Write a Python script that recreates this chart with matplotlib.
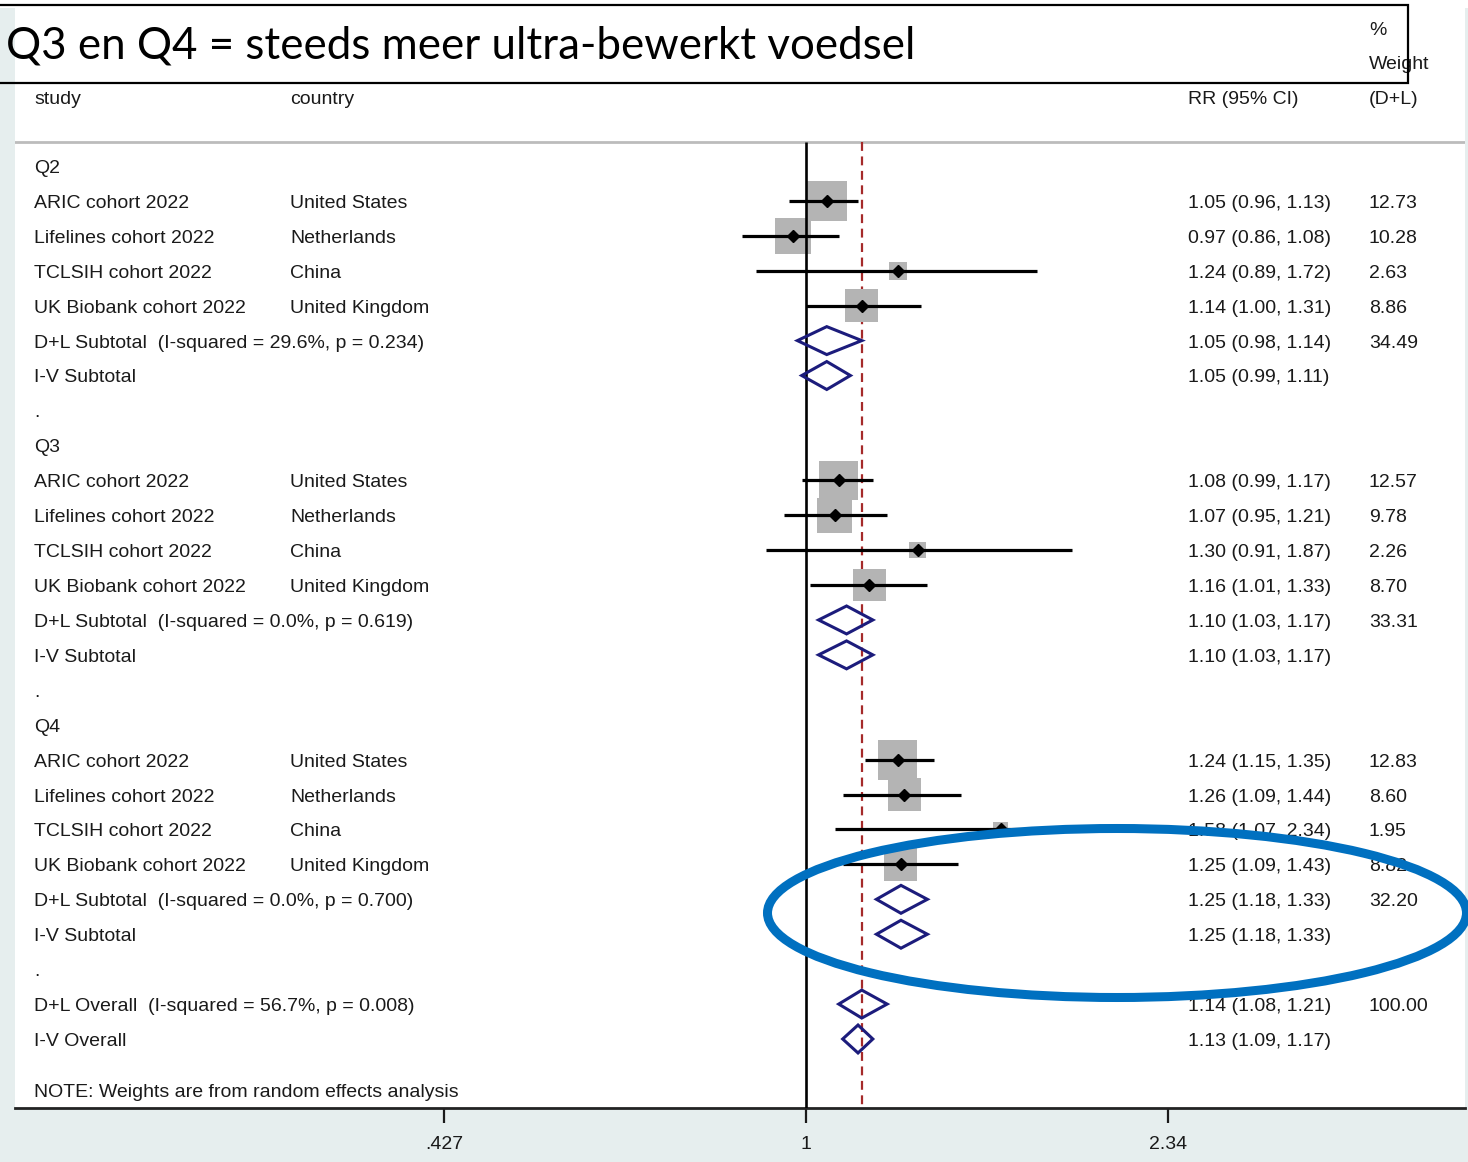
import matplotlib
matplotlib.use("Agg")
import matplotlib.pyplot as plt
import numpy as np
from matplotlib.patches import Rectangle, Ellipse
from matplotlib.ticker import NullLocator

plt.rcParams['font.family'] = ['Liberation Sans', 'DejaVu Sans']

# ---- data ----
groups = ["Q2", "Q3", "Q4"]
studies = ["ARIC cohort 2022", "Lifelines cohort 2022", "TCLSIH cohort 2022", "UK Biobank cohort 2022"]
countries = ["United States", "Netherlands", "China", "United Kingdom"]

rr = [[1.05, 0.97, 1.24, 1.14],
      [1.08, 1.07, 1.30, 1.16],
      [1.24, 1.26, 1.58, 1.25]]
lo = [[0.96, 0.86, 0.89, 1.00],
      [0.99, 0.95, 0.91, 1.01],
      [1.15, 1.09, 1.07, 1.09]]
hi = [[1.13, 1.08, 1.72, 1.31],
      [1.17, 1.21, 1.87, 1.33],
      [1.35, 1.44, 2.34, 1.43]]
weights = [[12.73, 10.28, 2.63, 8.86],
           [12.57, 9.78, 2.26, 8.70],
           [12.83, 8.60, 1.95, 8.82]]

# subtotals: (rr, lo, hi)
dl_sub = [(1.05, 0.98, 1.14), (1.10, 1.03, 1.17), (1.25, 1.18, 1.33)]
dl_sub_w = [34.49, 33.31, 32.20]
dl_isq = ["29.6%", "0.0%", "0.0%"]
dl_p = ["0.234", "0.619", "0.700"]
iv_sub = [(1.05, 0.99, 1.11), (1.10, 1.03, 1.17), (1.25, 1.18, 1.33)]

dl_overall = (1.14, 1.08, 1.21)
dl_overall_w = 100.00
overall_isq, overall_p = "56.7%", "0.008"
iv_overall = (1.13, 1.09, 1.17)

xticks = [0.427, 1, 2.34]
xtick_labels = [".427", "1", "2.34"]

title = "Q3 en Q4 = steeds meer ultra-bewerkt voedsel"

# ---- layout (pixels of the 1468x1162 canvas) ----
W, H = 1468, 1162
X0, SCALE = 806, 425.6      # px of RR=1, px per ln unit
ROW0, ROWH = 166, 34.92     # px of first row, row height
TXT = '#1a1a1a'
FS = 14


def fx(px):
    return px / W


def fy(py):
    return 1 - py / H


def row_of(py):
    return (py - ROW0) / ROWH


fig = plt.figure(figsize=(W / 100, H / 100), dpi=100)
fig.add_artist(Rectangle((0, 0), 1, fy(8), transform=fig.transFigure,
                         facecolor='#e6eeee', edgecolor='none', zorder=-1))

ax = fig.add_axes([fx(15), fy(1108), fx(1465) - fx(15), fy(8) - fy(1108)])
ax.set_facecolor('white')
ax.set_xscale('log')
ax.set_xlim(np.exp((15 - X0) / SCALE), np.exp((1465 - X0) / SCALE))
ybot = row_of(1108)
ax.set_ylim(ybot, row_of(8))
ax.xaxis.set_minor_locator(NullLocator())
ax.set_xticks(xticks, xtick_labels)
ax.set_yticks([])
ax.tick_params(axis='x', length=11, width=1.6, pad=9, labelsize=FS, colors=TXT)
for s in ['top', 'left', 'right']:
    ax.spines[s].set_visible(False)
ax.spines['bottom'].set_linewidth(2)
ax.spines['bottom'].set_color('#222222')

tr = ax.get_yaxis_transform()


def colx(px):
    return (px - 15) / 1450


def put(px, r, s):
    ax.text(colx(px), r + 0.07, s, transform=tr, fontsize=FS, color=TXT,
            va='center', ha='left')


def diamond(vals, r):
    m, l, h = vals
    ax.fill([l, m, h, m, l], [r, r - 0.4, r, r + 0.4, r], facecolor='none',
            edgecolor='#1c1c7c', linewidth=2.2, zorder=5)


# headers
r_sep = row_of(142)
put(34, row_of(97), "study")
put(290, row_of(97), "country")
put(1188, row_of(97), "RR (95% CI)")
put(1369, row_of(28), "%")
put(1369, row_of(62), "Weight")
put(1369, row_of(97), "(D+L)")
ax.axhline(r_sep, color='#bcbcbc', linewidth=2, zorder=1)

ax.vlines(1, r_sep, ybot, color='black', linewidth=1.9, zorder=3)
ax.vlines(dl_overall[0], r_sep, ybot, color='#a52a2a', linewidth=1.6,
          linestyles=(0, (4, 2.5)), zorder=1)

for g, gname in enumerate(groups):
    base = 8 * g
    put(34, base, gname)
    for i in range(4):
        r = base + 1 + i
        put(34, r, studies[i])
        put(290, r, countries[i])
        put(1188, r, f"{rr[g][i]:.2f} ({lo[g][i]:.2f}, {hi[g][i]:.2f})")
        put(1369, r, f"{weights[g][i]:.2f}")
        ax.scatter(rr[g][i], r, marker='s', s=64 * weights[g][i],
                   color='#b4b4b4', edgecolors='none', zorder=2)
        ax.plot([lo[g][i], hi[g][i]], [r, r], color='black', linewidth=2.3,
                solid_capstyle='butt', zorder=4)
        ax.plot(rr[g][i], r, marker='D', markersize=6.5, color='black', zorder=6)
    r = base + 5
    put(34, r, f"D+L Subtotal  (I-squared = {dl_isq[g]}, p = {dl_p[g]})")
    m, l, h = dl_sub[g]
    put(1188, r, f"{m:.2f} ({l:.2f}, {h:.2f})")
    put(1369, r, f"{dl_sub_w[g]:.2f}")
    diamond(dl_sub[g], r)
    r = base + 6
    put(34, r, "I-V Subtotal")
    m, l, h = iv_sub[g]
    put(1188, r, f"{m:.2f} ({l:.2f}, {h:.2f})")
    diamond(iv_sub[g], r)
    put(34, base + 7, ".")

put(34, 24, f"D+L Overall  (I-squared = {overall_isq}, p = {overall_p})")
m, l, h = dl_overall
put(1188, 24, f"{m:.2f} ({l:.2f}, {h:.2f})")
put(1369, 24, f"{dl_overall_w:.2f}")
diamond(dl_overall, 24)
put(34, 25, "I-V Overall")
m, l, h = iv_overall
put(1188, 25, f"{m:.2f} ({l:.2f}, {h:.2f})")
diamond(iv_overall, 25)
put(34, row_of(1090), "NOTE: Weights are from random effects analysis")

# slide overlay: title box and highlight ellipse
fig.add_artist(Rectangle((fx(-5), fy(83)), fx(1408) - fx(-5), fy(5) - fy(83),
                         transform=fig.transFigure, facecolor='none',
                         edgecolor='black', linewidth=1.6, zorder=5))
t = fig.text(fx(6), fy(46), title, fontsize=30, family=['Lato', 'DejaVu Sans'],
             color='black', va='center', ha='left', zorder=6)
fig.canvas.draw()
bb = t.get_window_extent()
t.set_fontsize(30 * (913 - 6) / bb.width)

fig.add_artist(Ellipse((fx(1117), fy(913)), fx(699), 169 / H,
                       transform=fig.transFigure, facecolor='none',
                       edgecolor='#0070c0', linewidth=6.5, zorder=7))

fig.savefig("out.png", dpi=100)
